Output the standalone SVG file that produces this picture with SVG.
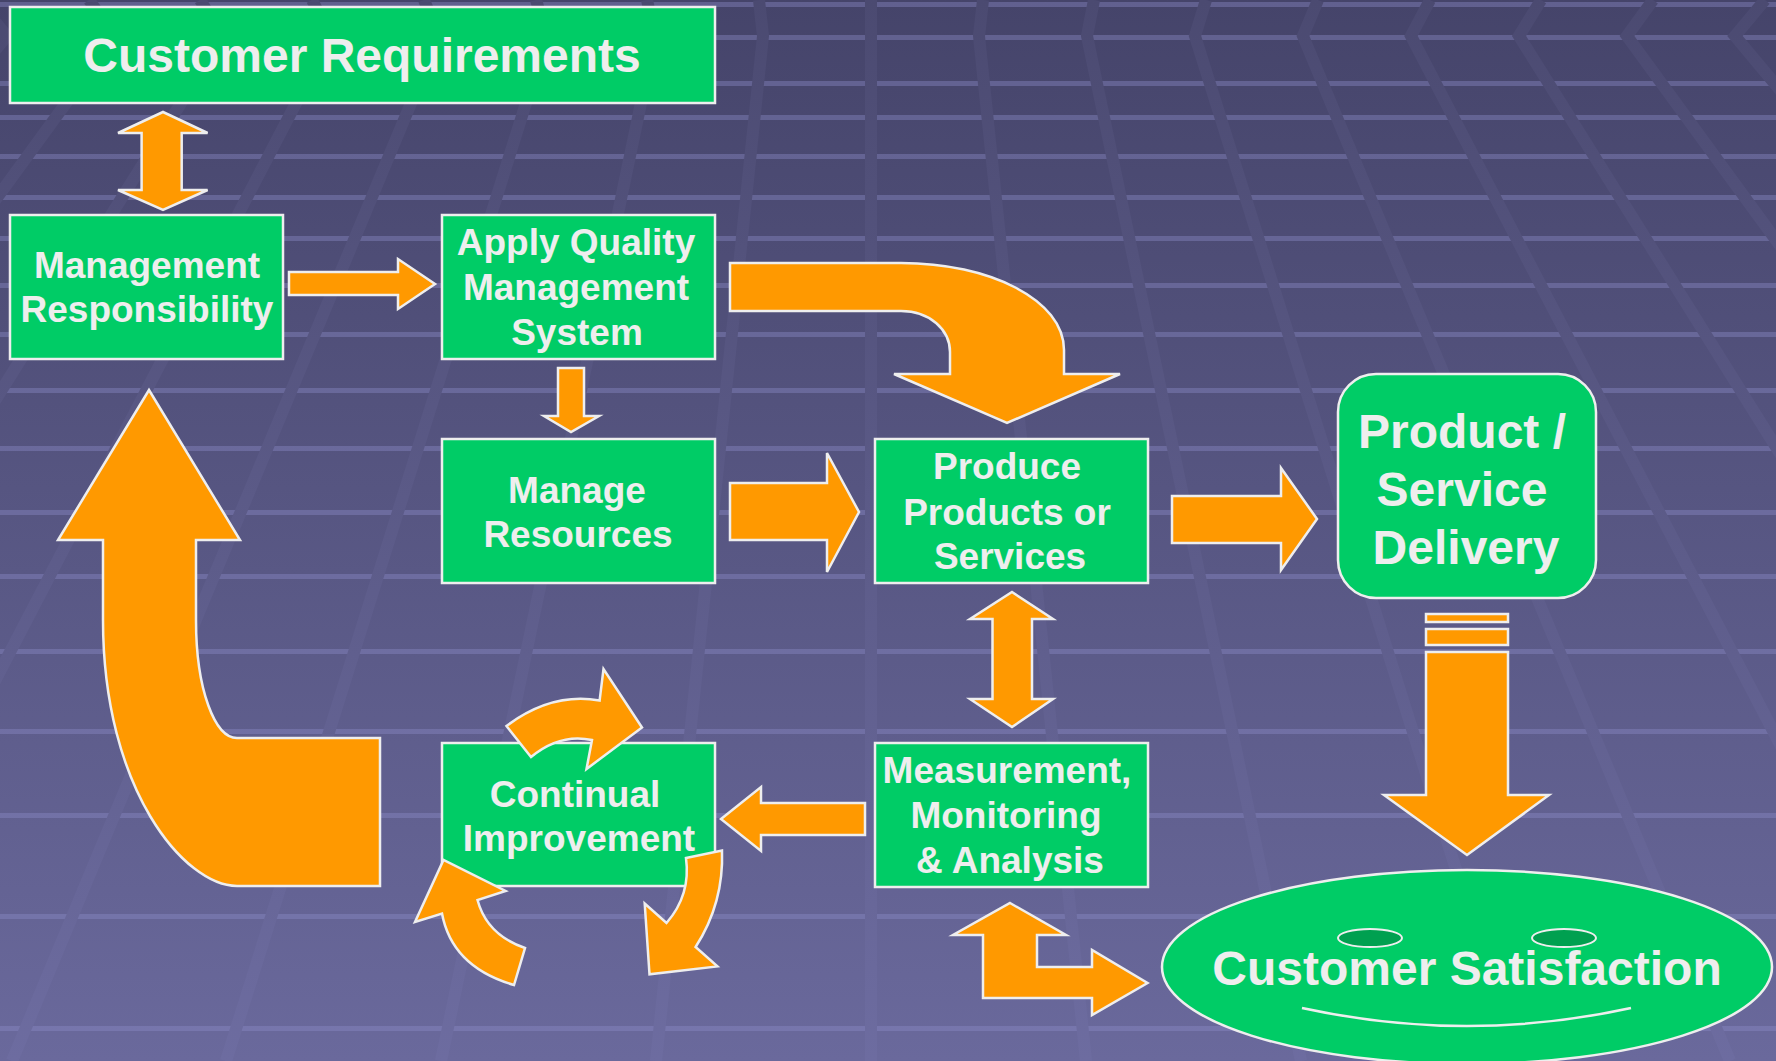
<svg xmlns="http://www.w3.org/2000/svg" width="1776" height="1061" viewBox="0 0 1776 1061">
<defs>
<linearGradient id="bg" x1="0" y1="0" x2="0" y2="1">
<stop offset="0" stop-color="#45446a"/>
<stop offset="1" stop-color="#6a699c"/>
</linearGradient>
<linearGradient id="slant" gradientUnits="userSpaceOnUse" x1="0" y1="0" x2="0" y2="1061">
<stop offset="0" stop-color="#4b4a71"/>
<stop offset="1" stop-color="#6d6ca0"/>
</linearGradient>
<style>
.box{fill:#00CC66;stroke:#EEEEEE;stroke-width:2.5}
.arr{fill:#FF9900;stroke:#EEEEEE;stroke-width:2.5;stroke-linejoin:miter}
.t{font-family:"Liberation Sans",Arial,sans-serif;font-weight:bold;fill:#EEEEEE;text-anchor:middle}
.m{font-size:37px}
.l{font-size:48px}
.hl{fill:#8c8cc8;opacity:0.4}
.sl{stroke:url(#slant);stroke-width:12;fill:none}
.eye{fill:#00A050;stroke:#EEEEEE;stroke-width:2}
</style>
</defs>

<g id="background">
<rect x="0" y="0" width="1776" height="1061" fill="url(#bg)"/>
<rect class="hl" x="0" y="2" width="1776" height="5"/>
<rect class="hl" x="0" y="35" width="1776" height="5"/>
<rect class="hl" x="0" y="81" width="1776" height="5"/>
<rect class="hl" x="0" y="115" width="1776" height="5"/>
<rect class="hl" x="0" y="154" width="1776" height="5"/>
<rect class="hl" x="0" y="195" width="1776" height="5"/>
<rect class="hl" x="0" y="236" width="1776" height="5"/>
<rect class="hl" x="0" y="283" width="1776" height="5"/>
<rect class="hl" x="0" y="332" width="1776" height="5"/>
<rect class="hl" x="0" y="388" width="1776" height="5"/>
<rect class="hl" x="0" y="446" width="1776" height="5"/>
<rect class="hl" x="0" y="510" width="1776" height="5"/>
<rect class="hl" x="0" y="574" width="1776" height="5"/>
<rect class="hl" x="0" y="649" width="1776" height="5"/>
<rect class="hl" x="0" y="729" width="1776" height="5"/>
<rect class="hl" x="0" y="813" width="1776" height="5"/>
<rect class="hl" x="0" y="914" width="1776" height="5"/>
<rect class="hl" x="0" y="1026" width="1776" height="5"/>
<path class="sl" d="M-23 0 L7 36 L-848 1061"/>
<path class="sl" d="M89 0 L115 36 L-633 1061"/>
<path class="sl" d="M200 0 L223 36 L-418 1061"/>
<path class="sl" d="M312 0 L331 36 L-203 1061"/>
<path class="sl" d="M424 0 L439 36 L12 1061"/>
<path class="sl" d="M536 0 L547 36 L226 1061"/>
<path class="sl" d="M647 0 L655 36 L441 1061"/>
<path class="sl" d="M759 0 L763 36 L656 1061"/>
<path class="sl" d="M871 0 L871 36 L871 1061"/>
<path class="sl" d="M983 0 L979 36 L1086 1061"/>
<path class="sl" d="M1094 0 L1087 36 L1301 1061"/>
<path class="sl" d="M1206 0 L1195 36 L1516 1061"/>
<path class="sl" d="M1318 0 L1303 36 L1730 1061"/>
<path class="sl" d="M1430 0 L1411 36 L1945 1061"/>
<path class="sl" d="M1541 0 L1519 36 L2160 1061"/>
<path class="sl" d="M1653 0 L1627 36 L2375 1061"/>
<path class="sl" d="M1765 0 L1735 36 L2590 1061"/>
</g>

<g id="node-customer-requirements">
<rect class="box" x="10" y="7" width="705" height="96"/>
<text class="t" x="362" y="72" font-size="48">Customer Requirements</text>
</g>

<g id="node-management-responsibility">
<rect class="box" x="10" y="215" width="273" height="144"/>
<text class="t m" x="147" y="278">Management</text>
<text class="t m" x="147" y="322">Responsibility</text>
</g>

<g id="node-apply-qms">
<rect class="box" x="442" y="215" width="273" height="144"/>
<text class="t m" x="576" y="255">Apply Quality</text>
<text class="t m" x="576" y="300">Management</text>
<text class="t m" x="577" y="345">System</text>
</g>

<g id="node-manage-resources">
<rect class="box" x="442" y="439" width="273" height="144"/>
<text class="t m" x="577" y="503">Manage</text>
<text class="t m" x="578" y="547">Resources</text>
</g>

<g id="node-produce">
<rect class="box" x="875" y="439" width="273" height="144"/>
<text class="t m" x="1007" y="479">Produce</text>
<text class="t m" x="1007" y="525">Products or</text>
<text class="t m" x="1010" y="569">Services</text>
</g>

<g id="node-delivery">
<rect class="box" x="1338" y="374" width="258" height="224" rx="38" ry="38"/>
<text class="t l" x="1462" y="448">Product /</text>
<text class="t l" x="1462" y="506">Service</text>
<text class="t l" x="1466" y="564">Delivery</text>
</g>

<g id="node-continual-improvement">
<rect class="box" x="442" y="743" width="273" height="143"/>
<text class="t m" x="575" y="807">Continual</text>
<text class="t m" x="579" y="851">Improvement</text>
</g>

<g id="node-measurement">
<rect class="box" x="875" y="743" width="273" height="144"/>
<text class="t m" x="1007" y="783">Measurement,</text>
<text class="t m" x="1006" y="828">Monitoring</text>
<text class="t m" x="1010" y="873">&amp; Analysis</text>
</g>

<g id="node-customer-satisfaction">
<ellipse class="box" cx="1467" cy="967" rx="305" ry="97"/>
<ellipse class="eye" cx="1370" cy="938" rx="32" ry="9"/>
<ellipse class="eye" cx="1564" cy="938" rx="32" ry="9"/>
<path d="M1302 1008 Q1467 1044 1631 1008" fill="none" stroke="#EEEEEE" stroke-width="2.5"/>
<text class="t l" x="1467" y="985">Customer Satisfaction</text>
</g>

<g id="connectors">
<path class="arr" d="M163 112 L207.6 133 L181.7 133 L181.7 190 L207.6 190 L163 210 L118 190 L141.6 190 L141.6 133 L118 133 Z"/>
<path class="arr" d="M289 272 L398 272 L398 259 L435 284 L398 309 L398 295 L289 295 Z"/>
<path class="arr" d="M730 263 L901 263 C990 263 1064 300 1064 350 L1064 374 L1120 374 L1007 423 L894 374 L950 374 L950 352 C950 330 930 311 901 311 L730 311 Z"/>
<path class="arr" d="M558 368 L584 368 L584 416 L599 416 L571 432 L544 416 L558 416 Z"/>
<path class="arr" d="M730 483 L827 483 L827 453 L859 512 L827 572 L827 540 L730 540 Z"/>
<path class="arr" d="M1172 496 L1281 496 L1281 468 L1317 519 L1281 570 L1281 543 L1172 543 Z"/>
<rect class="arr" x="1426" y="614" width="82" height="8"/>
<rect class="arr" x="1426" y="629" width="82" height="16"/>
<path class="arr" d="M1426 652 L1508 652 L1508 795 L1549 795 L1467 855 L1384 795 L1426 795 Z"/>
<path class="arr" d="M1012 592 L1053 619 L1032 619 L1032 699 L1053 699 L1012 727 L970 699 L992.5 699 L992.5 619 L970 619 Z"/>
<path class="arr" d="M865 803 L761 803 L761 787 L721 819 L761 851 L761 835 L865 835 Z"/>
<path class="arr" d="M1010 903 L1066 935 L1037 935 L1037 967 L1092 967 L1092 950 L1147.5 983 L1092 1015 L1092 998 L983 998 L983 935 L953 935 Z"/>
<path class="arr" d="M149 390 L240 540 L196 540 L196 620 C196 690 215 738 237 738 L380 738 L380 886 L237 886 C185 886 103 790 103 620 L103 540 L58 540 Z"/>
<path class="arr" d="M506.5 726 Q552 692 599.6 700.6 L603.5 669 L642 727.5 L586.5 769 L592 740 Q560 733 531 757 Z"/>
<path class="arr" d="M514 985 Q452 967 442 913.5 L415 922 L443.5 860 L505.6 891 L477.5 900 Q487 935 525 948 Z"/>
<path class="arr" d="M686 858 L722 850.5 Q724 903 695.6 947 L717.4 966.4 L649.5 974.3 L644.7 903.5 L666.5 923 Q691 895 686 858 Z"/>
</g>
</svg>
